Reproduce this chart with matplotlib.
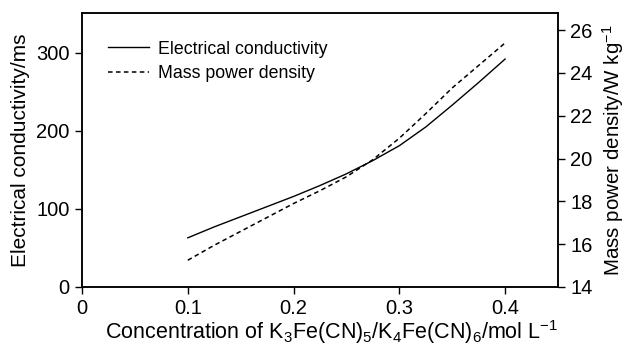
# conductivity and mass power density vs concentration

import matplotlib
matplotlib.use('Agg')
import matplotlib.pyplot as plt

plt.rcParams['font.family'] = ['Liberation Sans', 'DejaVu Sans']
plt.rcParams['mathtext.fontset'] = 'custom'
plt.rcParams['mathtext.rm'] = 'Liberation Sans'
plt.rcParams['mathtext.default'] = 'regular'

conc = [0.1, 0.125, 0.15, 0.175, 0.2, 0.225, 0.25, 0.275, 0.3, 0.325, 0.35, 0.375, 0.4]
conductivity = [63, 77, 90, 103, 116, 130, 145, 162, 181, 205, 233, 262, 292]
power_density = [15.25, 15.95, 16.6, 17.25, 17.9, 18.5, 19.15, 19.95, 20.95, 22.1, 23.3, 24.35, 25.4]

left_ticks = [0, 100, 200, 300]
right_ticks = [14, 16, 18, 20, 22, 24, 26]
x_ticks = [0, 0.1, 0.2, 0.3, 0.4]
x_ticklabels = ['0', '0.1', '0.2', '0.3', '0.4']

fig = plt.figure(figsize=(6.28, 3.48), dpi=100)
ax1 = fig.add_axes([0.1306, 0.1753, 0.7579, 0.7873])
ax2 = ax1.twinx()

l1, = ax1.plot(conc, conductivity, color='black', lw=1.0, label='Electrical conductivity')
l2, = ax2.plot(conc, power_density, color='black', lw=1.1, dashes=(3, 2.2), label='Mass power density')

ax1.set_xlim(0, 0.45)
ax1.set_ylim(0, 351)
ax2.set_ylim(14, 26.8)

ax1.set_xticks(x_ticks)
ax1.set_xticklabels(x_ticklabels)
ax1.set_yticks(left_ticks)
ax2.set_yticks(right_ticks)

for ax in (ax1, ax2):
    ax.tick_params(direction='out', length=5, width=1, labelsize=14.5, pad=4)
    for s in ax.spines.values():
        s.set_linewidth(1.1)

ax1.set_xlabel(r'Concentration of K$_3$Fe(CN)$_5$/K$_4$Fe(CN)$_6$/mol L$^{-1}$', fontsize=15.5)
ax1.xaxis.set_label_coords(0.525, -0.115)
ax1.set_ylabel('Electrical conductivity/ms', fontsize=15, labelpad=4)
ax2.set_ylabel(r'Mass power density/W kg$^{-1}$', fontsize=14.8, labelpad=5)

ax1.legend(handles=[l1, l2], loc='upper left', frameon=False, fontsize=12.8,
           handlelength=2.3, handletextpad=0.5, labelspacing=0.4,
           bbox_to_anchor=(0.04, 0.925), borderaxespad=0)

fig.savefig('out.png', dpi=100)
